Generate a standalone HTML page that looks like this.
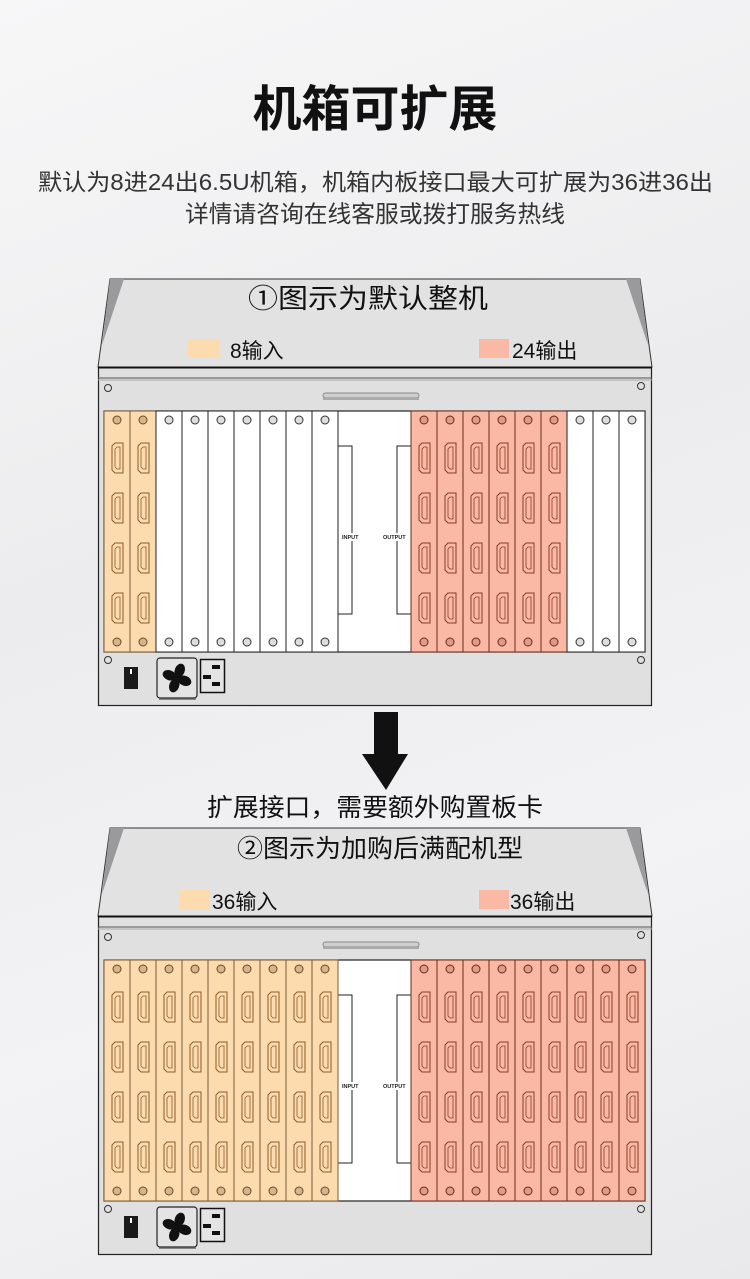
<!DOCTYPE html>
<html><head><meta charset="utf-8">
<style>
html,body{margin:0;padding:0;}
body{width:750px;height:1279px;overflow:hidden;background:linear-gradient(160deg,#f7f7f8 0%,#ececee 40%,#f3f3f5 70%,#e9e9eb 100%);}
svg{display:block;}
text{font-family:"Liberation Sans","Noto Sans CJK SC",sans-serif;}
</style></head><body>
<svg width="750" height="1279" viewBox="0 0 750 1279" xmlns="http://www.w3.org/2000/svg">
<defs>
  <g id="port">
    <path d="M0,3 L3,0 L11,0 L11,30 L3,30 L0,27 Z" fill="none" stroke-width="1"/>
    <path d="M3,6 L5,4 L8,4 L8,26 L5,26 L3,24 Z" fill="none" stroke-width="0.8"/>
  </g>
  <g id="inCard">
    <rect x="0" y="0" width="26" height="241" fill="#fcdcae" stroke="#7a5a3a" stroke-width="1"/>
    <circle cx="13" cy="9" r="4" fill="#d8b48a" stroke="#6a4a2a" stroke-width="1"/>
    <circle cx="13" cy="231" r="4" fill="#d8b48a" stroke="#6a4a2a" stroke-width="1"/>
    <g stroke="#8a5a2a"><use href="#port" x="8" y="32"/><use href="#port" x="8" y="82"/><use href="#port" x="8" y="132"/><use href="#port" x="8" y="182"/></g>
  </g>
  <g id="outCard">
    <rect x="0" y="0" width="26" height="241" fill="#f9b9a4" stroke="#6a2a1a" stroke-width="1"/>
    <circle cx="13" cy="9" r="4" fill="#e09a86" stroke="#6a2a1a" stroke-width="1"/>
    <circle cx="13" cy="231" r="4" fill="#e09a86" stroke="#6a2a1a" stroke-width="1"/>
    <g stroke="#8a3a2a"><use href="#port" x="8" y="32"/><use href="#port" x="8" y="82"/><use href="#port" x="8" y="132"/><use href="#port" x="8" y="182"/></g>
  </g>
  <g id="blankCard">
    <rect x="0" y="0" width="26" height="241" fill="#fff" stroke="#222" stroke-width="1"/>
    <circle cx="13" cy="9" r="4" fill="#ddd" stroke="#333" stroke-width="1"/>
    <circle cx="13" cy="231" r="4" fill="#ddd" stroke="#333" stroke-width="1"/>
  </g>
  <g id="chassis">
    <polygon points="110,279 640,279 652,367 98,367" fill="#e2e2e3" stroke="#333" stroke-width="1"/>
    <polygon points="110,279 124,279 102,345" fill="#9a9a9c"/>
    <polygon points="626,279 640,279 648,345" fill="#9a9a9c"/>
    <rect x="98.5" y="367.5" width="553" height="338" fill="#e0e0e0" stroke="#222" stroke-width="1.2"/>
    <line x1="98" y1="367.5" x2="652" y2="367.5" stroke="#111" stroke-width="2"/>
    <line x1="98" y1="378" x2="652" y2="378" stroke="#555" stroke-width="1"/>
    <line x1="98" y1="380" x2="652" y2="380" stroke="#aaa" stroke-width="1"/>
    <circle cx="108" cy="388" r="3.5" fill="#e0e0e0" stroke="#333"/>
    <circle cx="641" cy="386" r="3.5" fill="#e0e0e0" stroke="#333"/>
    <circle cx="108" cy="660" r="3.5" fill="#e0e0e0" stroke="#333"/>
    <circle cx="641" cy="660" r="3.5" fill="#e0e0e0" stroke="#333"/>
    <rect x="323" y="393" width="96" height="5" rx="2.5" fill="#cfcfcf" stroke="#888" stroke-width="1"/>
    <rect x="323" y="398" width="96" height="2" fill="#aaa"/>
    <rect x="104" y="411" width="541" height="241" fill="#fff" stroke="#222" stroke-width="1.2"/>
    <polyline points="338,446 352,446 352,614 338,614" fill="none" stroke="#222" stroke-width="1"/>
    <polyline points="411,446 397,446 397,614 411,614" fill="none" stroke="#222" stroke-width="1"/>
    <rect x="340" y="533" width="26" height="8" fill="#fff"/>
    <rect x="381" y="533" width="30" height="8" fill="#fff"/>
    <text x="342" y="539" font-size="5.5" font-weight="bold" fill="#222">INPUT</text>
    <text x="383" y="539" font-size="5.5" font-weight="bold" fill="#222">OUTPUT</text>
    <rect x="124" y="667" width="14" height="22" fill="#1a1a1a"/>
    <rect x="130" y="669" width="2" height="5" fill="#fff"/>
    <rect x="157" y="658" width="40" height="40" rx="3" fill="#e4e4e4" stroke="#222" stroke-width="1.2"/>
    <line x1="159" y1="699" x2="196" y2="699" stroke="#666" stroke-width="1.5"/>
    <g transform="translate(177,678)" fill="#111">
      <circle r="2.5"/>
      <ellipse cx="0" cy="-8" rx="5" ry="7" transform="rotate(20)"/>
      <ellipse cx="0" cy="-8" rx="5" ry="7" transform="rotate(110)"/>
      <ellipse cx="0" cy="-8" rx="5" ry="7" transform="rotate(200)"/>
      <ellipse cx="0" cy="-8" rx="5" ry="7" transform="rotate(290)"/>
    </g>
    <rect x="200.5" y="659.5" width="24" height="33" fill="#e4e4e4" stroke="#111" stroke-width="1.5"/>
    <rect x="212" y="665" width="8" height="4" fill="#111"/>
    <rect x="203" y="675" width="8" height="4" fill="#111"/>
    <rect x="212" y="682" width="8" height="4" fill="#111"/>
  </g>
</defs>

<text x="375" y="126" font-size="49" font-weight="bold" text-anchor="middle" fill="#111">机箱可扩展</text>
<text x="38" y="190" font-size="23" fill="#333" textLength="675" lengthAdjust="spacingAndGlyphs">默认为8进24出6.5U机箱，机箱内板接口最大可扩展为36进36出</text>
<text x="185" y="222" font-size="23.5" fill="#333" textLength="380" lengthAdjust="spacingAndGlyphs">详情请咨询在线客服或拨打服务热线</text>

<use href="#chassis"/>
<text x="248" y="308" font-size="27" fill="#111" textLength="240" lengthAdjust="spacingAndGlyphs">①图示为默认整机</text>
<rect x="188" y="339" width="31" height="19" fill="#fcdcae"/>
<text x="230" y="358" font-size="21" fill="#111">8输入</text>
<rect x="479" y="339" width="30" height="19" fill="#f9b9a4"/>
<text x="512" y="358" font-size="21" fill="#111">24输出</text>
<g transform="translate(0,411)">
  <use href="#inCard" x="104"/><use href="#inCard" x="130"/>
  <use href="#blankCard" x="156"/><use href="#blankCard" x="182"/><use href="#blankCard" x="208"/><use href="#blankCard" x="234"/><use href="#blankCard" x="260"/><use href="#blankCard" x="286"/><use href="#blankCard" x="312"/>
  <use href="#outCard" x="411"/><use href="#outCard" x="437"/><use href="#outCard" x="463"/><use href="#outCard" x="489"/><use href="#outCard" x="515"/><use href="#outCard" x="541"/>
  <use href="#blankCard" x="567"/><use href="#blankCard" x="593"/><use href="#blankCard" x="619"/>
</g>

<polygon points="374,712 398,712 398,754 408,754 386,790 362,754 374,754" fill="#111"/>
<text x="207" y="816" font-size="25" fill="#111" textLength="336" lengthAdjust="spacingAndGlyphs">扩展接口，需要额外购置板卡</text>

<use href="#chassis" y="549"/>
<text x="237" y="857" font-size="25" fill="#111" textLength="286" lengthAdjust="spacingAndGlyphs">②图示为加购后满配机型</text>
<rect x="179" y="890" width="31" height="19" fill="#fcdcae"/>
<text x="212" y="909" font-size="21" fill="#111">36输入</text>
<rect x="479" y="890" width="30" height="19" fill="#f9b9a4"/>
<text x="510" y="909" font-size="21" fill="#111">36输出</text>
<g transform="translate(0,960)">
  <use href="#inCard" x="104"/><use href="#inCard" x="130"/><use href="#inCard" x="156"/><use href="#inCard" x="182"/><use href="#inCard" x="208"/><use href="#inCard" x="234"/><use href="#inCard" x="260"/><use href="#inCard" x="286"/><use href="#inCard" x="312"/>
  <use href="#outCard" x="411"/><use href="#outCard" x="437"/><use href="#outCard" x="463"/><use href="#outCard" x="489"/><use href="#outCard" x="515"/><use href="#outCard" x="541"/><use href="#outCard" x="567"/><use href="#outCard" x="593"/><use href="#outCard" x="619"/>
</g>
</svg>
</body></html>
